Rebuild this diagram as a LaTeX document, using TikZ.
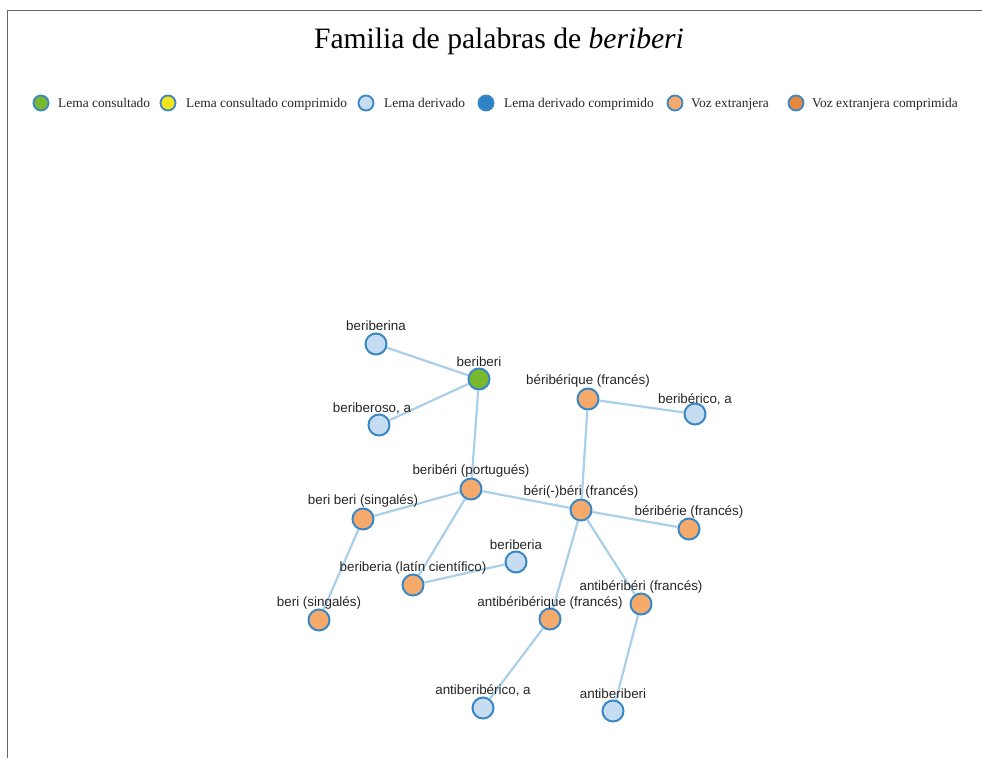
\documentclass[tikz,border=0pt]{standalone}
\usepackage{fontspec}
\setmainfont{Liberation Serif}
\newfontfamily\labelfont{Liberation Sans}
\definecolor{edgec}{HTML}{A9D0E8}
\definecolor{ringc}{HTML}{3A87C6}
\definecolor{greenc}{HTML}{7AB82E}
\definecolor{yellowc}{HTML}{F2E21A}
\definecolor{lightc}{HTML}{C6DCF0}
\definecolor{darkbluec}{HTML}{2C82C4}
\definecolor{orangec}{HTML}{F5AA6C}
\definecolor{darkorangec}{HTML}{E6883E}
\definecolor{framec}{HTML}{666666}
\tikzset{
  wnode/.style={circle, draw=ringc, line width=2pt, minimum size=21pt, inner sep=0pt},
  lemma/.style={wnode, fill=greenc},
  deriv/.style={wnode, fill=lightc},
  foreign/.style={wnode, fill=orangec},
  wlabel/.style={font=\labelfont\fontsize{13.4}{15}\selectfont, inner sep=0pt, text=black!85},
  link/.style={edgec, line width=2.2pt},
  legdot/.style={circle, draw=ringc, line width=1.8pt, minimum size=15pt, inner sep=0pt},
  legtext/.style={font=\fontsize{13.4}{15}\selectfont, anchor=base west, inner sep=0pt, text=black!85},
}
\begin{document}
\begin{tikzpicture}[x=1pt,y=-1pt]
\useasboundingbox (0,0) rectangle (982,758);
\fill[white] (0,0) rectangle (982,758);
\draw[framec, line width=1.6pt] (982,10.5) -- (7.5,10.5) -- (7.5,758);
\node[font=\fontsize{29.6}{34}\selectfont, inner sep=0pt, anchor=base] (title) at (499,48) {Familia de palabras de \textit{beriberi}};
% legend
\node[legdot, fill=greenc] (l1) at (41,103) {};
\node[legtext] (t1) at (58,107) {Lema consultado};
\node[legdot, fill=yellowc] (l2) at (168,103) {};
\node[legtext] (t2) at (186,107) {Lema consultado comprimido};
\node[legdot, fill=lightc] (l3) at (366,103) {};
\node[legtext] (t3) at (384,107) {Lema derivado};
\node[legdot, fill=darkbluec] (l4) at (486,103) {};
\node[legtext] (t4) at (504,107) {Lema derivado comprimido};
\node[legdot, fill=orangec] (l5) at (675,103) {};
\node[legtext] (t5) at (691,107) {Voz extranjera};
\node[legdot, fill=darkorangec] (l6) at (796,103) {};
\node[legtext] (t6) at (812,107) {Voz extranjera comprimida};
% nodes
\node[deriv] (berina) at (376,344) {};
\node[lemma] (beriberi) at (479,379) {};
\node[deriv] (beroso) at (379,425) {};
\node[foreign] (beribq) at (588,399) {};
\node[deriv] (bericoa) at (695,414) {};
\node[foreign] (port) at (471,489) {};
\node[foreign] (singb) at (363,519) {};
\node[foreign] (frbb) at (581,510) {};
\node[foreign] (frie) at (689,529) {};
\node[deriv] (beria) at (516,562) {};
\node[foreign] (latin) at (413,585) {};
\node[foreign] (sing) at (319,620) {};
\node[foreign] (antifr) at (641,604) {};
\node[foreign] (antiq) at (550,619) {};
\node[deriv] (anticoa) at (483,708) {};
\node[deriv] (antib) at (613,711) {};
% edges
\draw[link] (berina) -- (beriberi);
\draw[link] (beroso) -- (beriberi);
\draw[link] (beriberi) -- (port);
\draw[link] (beribq) -- (bericoa);
\draw[link] (beribq) -- (frbb);
\draw[link] (port) -- (singb);
\draw[link] (port) -- (frbb);
\draw[link] (port) -- (latin);
\draw[link] (singb) -- (sing);
\draw[link] (latin) -- (beria);
\draw[link] (frbb) -- (frie);
\draw[link] (frbb) -- (antiq);
\draw[link] (frbb) -- (antifr);
\draw[link] (antiq) -- (anticoa);
\draw[link] (antifr) -- (antib);
% labels
\node[wlabel] (lb1) at (376,326) {beriberina};
\node[wlabel] (lb2) at (479,362) {beriberi};
\node[wlabel] (lb3) at (372,408) {beriberoso, a};
\node[wlabel] (lb4) at (588,381) {béribérique (francés)};
\node[wlabel] (lb5) at (695,399) {beribérico, a};
\node[wlabel] (lb6) at (471,471) {beribéri (portugués)};
\node[wlabel] (lb7) at (363,501) {beri beri (singalés)};
\node[wlabel] (lb8) at (581,492) {béri(-)béri (francés)};
\node[wlabel] (lb9) at (689,512) {béribérie (francés)};
\node[wlabel] (lb10) at (516,545) {beriberia};
\node[wlabel] (lb11) at (413,568) {beriberia (latín científico)};
\node[wlabel] (lb12) at (319,603) {beri (singalés)};
\node[wlabel] (lb13) at (641,587) {antibéribéri (francés)};
\node[wlabel] (lb14) at (550,603) {antibéribérique (francés)};
\node[wlabel] (lb15) at (483,690) {antiberibérico, a};
\node[wlabel] (lb16) at (613,694) {antiberiberi};
\end{tikzpicture}
\end{document}
